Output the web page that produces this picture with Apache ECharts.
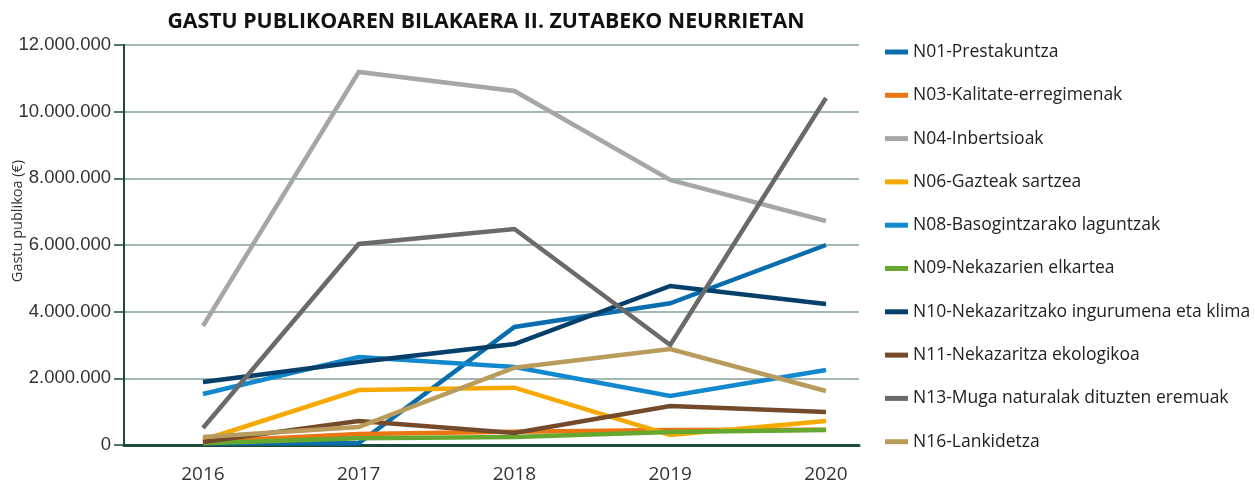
<!DOCTYPE html>
<html>
<head>
<meta charset="utf-8">
<script src="https://cdn.jsdelivr.net/npm/echarts@6/dist/echarts.min.js"></script>
<style>
html,body{margin:0;padding:0;background:#fff;}
#c{width:1255px;height:484px;}
</style>
</head>
<body>
<div id="c"></div>
<script>
const years = [2016, 2017, 2018, 2019, 2020];
const yTicks = [0, 2000000, 4000000, 6000000, 8000000, 10000000, 12000000];
const names = [
  'N01-Prestakuntza',
  'N03-Kalitate-erregimenak',
  'N04-Inbertsioak',
  'N06-Gazteak sartzea',
  'N08-Basogintzarako laguntzak',
  'N09-Nekazarien elkartea',
  'N10-Nekazaritzako ingurumena eta klima',
  'N11-Nekazaritza ekologikoa',
  'N13-Muga naturalak dituzten eremuak',
  'N16-Lankidetza'
];
const colors = ['#0a6eae', '#ea7512', '#a6a6a6', '#f6a900', '#1288cf', '#66a82f', '#053f6a', '#744a2b', '#6a6a6a', '#b99b5c'];
const n01 = [50000, 50000, 3540000, 4250000, 6000000];
const n03 = [100000, 330000, 400000, 450000, 460000];
const n04 = [3570000, 11190000, 10620000, 7950000, 6720000];
const n06 = [150000, 1650000, 1720000, 300000, 720000];
const n08 = [1530000, 2640000, 2340000, 1470000, 2250000];
const n09 = [50000, 200000, 240000, 390000, 450000];
const n10 = [1890000, 2490000, 3030000, 4770000, 4230000];
const n11 = [90000, 720000, 360000, 1170000, 990000];
const n13 = [510000, 6030000, 6480000, 3000000, 10410000];
const n16 = [240000, 540000, 2320000, 2880000, 1620000];
const values = [n01, n03, n04, n06, n08, n09, n10, n11, n13, n16];

function fmt(v){ return String(Math.round(v)).replace(/\B(?=(\d{3})+(?!\d))/g, '.'); }

const chart = echarts.init(document.getElementById('c'));
const series = names.map((nm, i) => ({
  name: nm,
  type: 'line',
  data: years.map((y, j) => [y, values[i][j]]),
  symbol: 'none',
  lineStyle: { width: 4.5, color: colors[i], join: 'miter', cap: 'butt' },
  itemStyle: { color: colors[i] },
  z: 2 + i
}));

chart.setOption({
  animation: false,
  backgroundColor: '#fff',
  textStyle: { fontFamily: 'Open Sans' },
  title: {
    text: 'GASTU PUBLIKOAREN BILAKAERA II. ZUTABEKO NEURRIETAN',
    left: 481, top: 6, textAlign: 'center',
    textStyle: { fontFamily: 'Open Sans', fontWeight: 'bold', fontSize: 21.3, color: '#111' }
  },
  legend: {
    orient: 'vertical',
    left: 880, top: 37,
    icon: 'rect',
    itemWidth: 23, itemHeight: 5,
    itemGap: 23.3,
    textStyle: { fontFamily: 'Open Sans', fontSize: 17.5, color: '#222', lineHeight: 20, padding: [0,0,0,0] },
    data: names
  },
  grid: { left: 124, right: 396, top: 45, bottom: 38, containLabel: false },
  xAxis: {
    type: 'value',
    min: 2015.493, max: 2020.212,
    splitLine: { show: false },
    axisTick: { show: false },
    axisLine: { show: true, lineStyle: { color: '#1c4a3b', width: 3 } },
    axisLabel: {
      customValues: years,
      formatter: v => String(Math.round(v)),
      fontSize: 19, color: '#333', margin: 20, fontFamily: 'Open Sans'
    }
  },
  yAxis: {
    type: 'value',
    min: 0, max: 12000000, interval: 2000000,
    axisLine: { show: true, lineStyle: { color: '#1c4a3b', width: 2 } },
    axisTick: { show: true, length: 10, lineStyle: { color: '#1c4a3b', width: 1.5 } },
    splitLine: { show: true, lineStyle: { color: '#86a199', width: 1.5 } },
    axisLabel: {
      formatter: v => fmt(v),
      fontSize: 18.5, color: '#333', margin: 13, fontFamily: 'Liberation Sans'
    }
  },
  graphic: [{
    type: 'text',
    x: 18, y: 221,
    rotation: Math.PI / 2,
    style: {
      text: 'Gastu publikoa (€)',
      fontFamily: 'Open Sans', fontSize: 14.5, fill: '#333',
      textAlign: 'center', textVerticalAlign: 'middle'
    }
  }],
  series: series
});
</script>
</body>
</html>
